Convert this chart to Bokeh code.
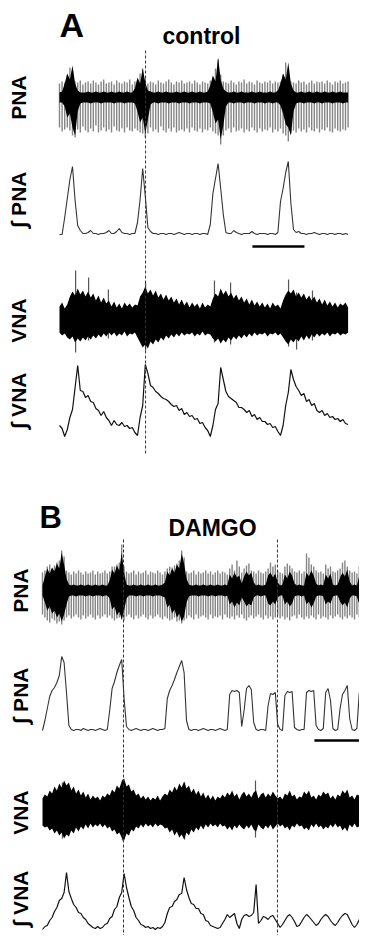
import numpy as np
from bokeh.plotting import figure
from bokeh.models import Range1d, Label
from bokeh.embed import file_html
from bokeh.resources import INLINE

# ---------------- data ----------------
DT = 0.1
SCALE_BAR_S = 2.0   # s
A_TITLE = "control"
B_TITLE = "DAMGO"
TRACE_LABELS = ["PNA", "\u222b PNA", "VNA", "\u222b VNA"]

# Panel A (control)
A_PNA_CORE_UP = [5, 6, 14, 24, 18, 32, 14, 7, 5, 5,
                 5, 6, 5, 5, 6, 5, 5, 6, 5, 5,
                 6, 5, 5, 6, 5, 5, 6, 5, 5, 9,
                 20, 14, 29, 15, 7, 6, 5, 5, 6, 5,
                 5, 6, 5, 5, 5, 6, 5, 5, 6, 5,
                 5, 6, 5, 5, 6, 5, 5, 6, 12, 22,
                 16, 40, 18, 9, 6, 5, 5, 6, 5, 5,
                 6, 5, 5, 5, 6, 5, 5, 6, 5, 5,
                 5, 6, 5, 5, 7, 14, 24, 18, 35, 14,
                 7, 5, 5, 6, 5, 5, 6, 5, 5, 6,
                 5, 5, 6, 5, 5, 6, 5, 5, 6, 5,
                 5, 5]
A_PNA_CORE_DN = [5, 5, 9, 20, 16, 30, 38, 14, 6, 5,
                 5, 5, 6, 5, 5, 5, 6, 5, 5, 5,
                 5, 6, 5, 5, 5, 6, 5, 5, 5, 6,
                 14, 25, 20, 36, 22, 7, 5, 5, 6, 5,
                 5, 5, 6, 5, 5, 5, 6, 5, 5, 5,
                 6, 5, 5, 5, 6, 5, 5, 5, 6, 15,
                 26, 22, 42, 28, 9, 5, 5, 6, 5, 5,
                 5, 6, 5, 5, 5, 6, 5, 5, 5, 6,
                 5, 5, 6, 5, 5, 8, 16, 27, 30, 38,
                 14, 6, 5, 5, 6, 5, 5, 5, 6, 5,
                 5, 6, 5, 5, 5, 6, 5, 5, 5, 6,
                 5, 5]
A_PNA_SPK_UP = [14, 16, 15, 22, 30, 27, 16, 15, 17, 13,
                15, 16, 14, 17, 15, 13, 16, 18, 14, 15,
                16, 13, 17, 15, 14, 16, 15, 18, 13, 16,
                17, 24, 29, 19, 14, 16, 15, 13, 17, 15,
                14, 16, 18, 15, 13, 16, 15, 17, 14, 15,
                16, 14, 17, 15, 13, 16, 15, 14, 17, 20,
                29, 38, 23, 16, 15, 14, 17, 15, 13, 16,
                15, 18, 14, 16, 15, 13, 17, 15, 14, 16,
                15, 17, 14, 16, 15, 16, 23, 35, 27, 16,
                15, 14, 17, 15, 16, 13, 15, 17, 14, 16,
                15, 16, 14, 17, 15, 13, 16, 15, 17, 14,
                15, 16]
A_PNA_SPK_DN = [30, 34, 32, 30, 33, 38, 40, 32, 35, 29,
                33, 35, 31, 34, 28, 35, 33, 30, 34, 32,
                35, 29, 33, 34, 31, 35, 30, 33, 34, 31,
                33, 35, 36, 40, 36, 30, 34, 32, 35, 29,
                33, 35, 31, 34, 30, 35, 33, 32, 34, 31,
                35, 30, 33, 34, 31, 35, 32, 33, 30, 34,
                36, 38, 47, 38, 33, 31, 35, 30, 34, 33,
                31, 35, 32, 34, 30, 33, 35, 31, 34, 32,
                33, 30, 35, 32, 34, 31, 36, 38, 44, 36,
                33, 35, 31, 34, 32, 35, 30, 33, 34, 31,
                35, 32, 33, 30, 34, 35, 31, 33, 34, 32,
                33, 30]
A_IPNA = [0, 0, 17, 36, 55, 68, 34, 9, 4, 1,
          1, 2, 4, 1, 1, 0, 1, 1, 2, 4,
          1, 1, 3, 6, 2, 1, 1, 0, 1, 1,
          12, 35, 66, 38, 7, 3, 1, 1, 0, 1,
          1, 0, 1, 1, 0, 1, 2, 1, 0, 1,
          1, 0, 1, 1, 0, 1, 1, 0, 10, 41,
          56, 71, 46, 20, 2, 1, 1, 4, 2, 1,
          0, 1, 1, 1, 3, 1, 0, 1, 1, 1,
          0, 1, 1, 0, 2, 33, 46, 62, 73, 31,
          5, 2, 3, 1, 1, 0, 1, 1, 2, 1,
          0, 1, 1, 0, 1, 1, 0, 1, 1, 0,
          1, 0]
A_VNA_UP = [14, 18, 12, 16, 24, 29, 25, 32, 26, 30,
            24, 29, 23, 27, 20, 25, 18, 23, 17, 20,
            14, 19, 13, 17, 12, 18, 14, 17, 13, 16,
            15, 24, 28, 34, 27, 31, 25, 30, 23, 27,
            21, 26, 20, 24, 18, 22, 16, 21, 15, 19,
            13, 18, 14, 17, 12, 18, 13, 16, 14, 22,
            27, 24, 32, 26, 30, 24, 28, 22, 26, 20,
            24, 18, 22, 16, 21, 15, 19, 14, 18, 13,
            17, 12, 18, 14, 16, 12, 20, 26, 30, 27,
            31, 24, 28, 23, 27, 21, 25, 20, 24, 18,
            22, 16, 21, 15, 19, 14, 18, 13, 17, 15,
            18, 13]
A_VNA_DN = [12, 15, 13, 17, 19, 16, 22, 18, 21, 17,
            20, 16, 19, 15, 18, 14, 17, 13, 16, 12,
            15, 12, 16, 13, 15, 11, 16, 13, 14, 12,
            17, 22, 27, 24, 28, 21, 24, 19, 22, 17,
            20, 15, 18, 14, 17, 13, 16, 12, 15, 13,
            14, 12, 16, 13, 15, 11, 15, 13, 14, 18,
            21, 18, 23, 19, 22, 17, 20, 16, 19, 15,
            18, 14, 17, 13, 16, 12, 15, 13, 14, 12,
            16, 13, 14, 12, 15, 13, 17, 21, 24, 19,
            22, 18, 21, 16, 20, 15, 19, 14, 17, 13,
            16, 13, 15, 12, 16, 13, 14, 12, 15, 13,
            14, 12]
A_VNA_SPIKE_T = [0.62, 1.12, 1.88, 3.31, 5.96, 6.58, 8.81, 9.12, 9.73]
A_VNA_SPIKE_UP = [50, 43, 31, 38, 40, 38, 41, 28, 30]
A_VNA_SPIKE_DN = [32, 20, 18, 30, 22, 24, 26, 29, 20]
A_IVNA = [12, 9, 1, 8, 20, 28, 50, 72, 47, 46,
          40, 42, 36, 35, 29, 27, 22, 26, 20, 17,
          12, 17, 13, 12, 15, 11, 12, 9, 10, 5,
          2, 20, 32, 73, 64, 52, 50, 46, 44, 41,
          39, 38, 36, 33, 31, 32, 27, 29, 23, 25,
          21, 22, 18, 19, 14, 15, 10, 7, 1, 12,
          28, 34, 70, 58, 46, 41, 39, 37, 35, 30,
          30, 28, 25, 27, 21, 23, 18, 20, 16, 16,
          13, 14, 10, 11, 6, 2, 12, 32, 45, 68,
          58, 51, 47, 42, 44, 36, 38, 32, 34, 27,
          25, 27, 22, 24, 20, 21, 18, 19, 16, 18,
          14, 13]
A_MARKERS_S = [3.31]
A_SCALEBAR_START_S = 7.42

# Panel B (DAMGO)
B_PNA_CORE_UP = [5, 14, 22, 17, 23, 19, 27, 22, 38, 26,
                 12, 6, 5, 6, 5, 5, 6, 5, 5, 6,
                 5, 5, 6, 5, 5, 6, 5, 5, 10, 21,
                 17, 25, 20, 38, 18, 6, 5, 5, 6, 5,
                 5, 6, 5, 5, 6, 5, 5, 6, 5, 5,
                 6, 8, 19, 15, 22, 18, 26, 22, 37, 27,
                 12, 6, 5, 5, 6, 5, 5, 6, 5, 5,
                 6, 5, 5, 6, 5, 5, 6, 5, 16, 12,
                 18, 13, 15, 7, 14, 19, 15, 18, 8, 5,
                 6, 5, 5, 6, 15, 18, 13, 17, 8, 5,
                 6, 16, 12, 19, 15, 7, 5, 6, 5, 5,
                 18, 14, 20, 15, 7, 5, 6, 5, 16, 12,
                 17, 6, 5, 6, 13, 18, 14, 21, 9, 5,
                 6, 5, 15, 18, 8, 5]
B_PNA_CORE_DN = [5, 12, 20, 16, 23, 20, 27, 23, 31, 24,
                 14, 6, 5, 5, 6, 5, 5, 5, 6, 5,
                 5, 6, 5, 5, 5, 6, 5, 5, 8, 19,
                 16, 25, 21, 29, 20, 8, 5, 5, 5, 6,
                 5, 5, 6, 5, 5, 5, 6, 5, 5, 5,
                 6, 7, 17, 14, 23, 19, 27, 23, 31, 26,
                 12, 6, 5, 5, 5, 6, 5, 5, 5, 6,
                 5, 5, 6, 5, 5, 5, 6, 5, 14, 11,
                 17, 12, 15, 7, 11, 16, 13, 15, 7, 5,
                 5, 6, 5, 5, 13, 15, 11, 14, 7, 5,
                 5, 14, 11, 16, 13, 6, 5, 5, 6, 5,
                 14, 11, 17, 13, 6, 5, 5, 6, 14, 11,
                 13, 6, 5, 5, 11, 15, 12, 17, 8, 5,
                 5, 6, 14, 16, 7, 5]
B_PNA_SPK_UP = [18, 20, 24, 26, 22, 25, 28, 30, 40, 34,
                20, 18, 16, 19, 17, 20, 18, 16, 19, 17,
                18, 20, 16, 19, 17, 18, 20, 17, 19, 24,
                24, 26, 28, 46, 24, 19, 17, 18, 20, 16,
                19, 17, 18, 20, 16, 19, 18, 17, 20, 18,
                16, 19, 22, 24, 23, 25, 27, 30, 40, 33,
                19, 17, 18, 20, 16, 19, 17, 18, 20, 17,
                19, 16, 18, 20, 17, 19, 18, 16, 22, 26,
                20, 30, 24, 18, 22, 25, 27, 20, 19, 17,
                20, 18, 17, 19, 22, 28, 24, 26, 20, 18,
                17, 24, 27, 25, 22, 19, 18, 20, 17, 19,
                37, 33, 26, 24, 20, 18, 19, 17, 26, 22,
                24, 19, 18, 20, 22, 28, 30, 24, 20, 18,
                19, 17, 24, 28, 20, 18]
B_PNA_SPK_DN = [24, 27, 30, 32, 28, 30, 33, 31, 34, 30,
                27, 25, 28, 26, 24, 27, 29, 25, 28, 26,
                24, 27, 29, 25, 28, 26, 24, 27, 25, 28,
                30, 28, 27, 29, 30, 26, 24, 27, 29, 25,
                28, 26, 24, 27, 29, 25, 28, 26, 24, 27,
                29, 26, 28, 30, 29, 27, 31, 30, 33, 30,
                28, 25, 27, 29, 24, 28, 26, 25, 27, 29,
                24, 28, 26, 27, 25, 29, 24, 27, 28, 26,
                29, 25, 27, 24, 28, 30, 27, 25, 28, 26,
                24, 27, 29, 25, 28, 26, 29, 27, 25, 28,
                26, 29, 27, 30, 26, 25, 28, 24, 27, 29,
                26, 28, 25, 27, 29, 24, 28, 26, 27, 29,
                25, 28, 26, 24, 27, 29, 26, 28, 25, 27,
                29, 24, 27, 28, 26, 25]
B_IPNA = [0, 10, 22, 34, 40, 43, 48, 55, 74, 68,
          38, 5, 1, 0, 1, 1, 0, 2, 1, 0,
          1, 1, 0, 1, 2, 1, 0, 1, 20, 42,
          49, 58, 65, 71, 32, 4, 1, 0, 1, 2,
          1, 0, 1, 1, 0, 1, 2, 1, 0, 1,
          1, 2, 32, 40, 45, 51, 58, 64, 70, 58,
          10, 1, 0, 1, 1, 0, 1, 2, 1, 0,
          1, 1, 0, 1, 2, 1, 0, 1, 36, 40,
          39, 40, 38, 4, 20, 42, 45, 41, 8, 1,
          0, 1, 1, 0, 25, 37, 36, 38, 6, 1,
          0, 35, 39, 38, 39, 3, 1, 0, 1, 1,
          38, 40, 39, 40, 5, 1, 0, 2, 38, 42,
          30, 2, 0, 1, 22, 36, 40, 45, 12, 1,
          0, 2, 38, 41, 5, 0]
B_VNA_UP = [14, 18, 16, 22, 19, 26, 22, 29, 25, 32,
            27, 30, 22, 26, 19, 23, 17, 21, 15, 19,
            13, 17, 14, 16, 12, 17, 15, 19, 17, 23,
            20, 27, 24, 31, 34, 26, 28, 21, 23, 17,
            19, 14, 17, 13, 16, 12, 15, 13, 17, 12,
            16, 19, 17, 23, 20, 26, 22, 29, 25, 31,
            24, 27, 20, 24, 18, 22, 16, 20, 14, 18,
            13, 17, 12, 16, 14, 18, 15, 20, 17, 22,
            16, 19, 13, 18, 21, 16, 19, 15, 20, 22,
            14, 18, 20, 15, 19, 16, 21, 17, 14, 16,
            13, 19, 17, 22, 16, 18, 13, 16, 15, 21,
            18, 22, 15, 17, 13, 18, 16, 21, 18, 20,
            14, 17, 13, 18, 16, 22, 19, 23, 15, 17,
            13, 18, 17, 22, 16, 18]
B_VNA_DN = [13, 15, 14, 18, 16, 21, 18, 23, 20, 26,
            22, 24, 18, 21, 15, 19, 14, 17, 12, 16,
            11, 15, 12, 14, 11, 15, 12, 16, 14, 19,
            17, 22, 20, 25, 28, 21, 23, 17, 19, 14,
            16, 12, 15, 11, 14, 12, 15, 11, 14, 12,
            13, 16, 15, 20, 17, 23, 19, 25, 22, 27,
            20, 23, 17, 20, 15, 18, 13, 17, 12, 15,
            11, 14, 12, 15, 11, 14, 13, 17, 14, 18,
            13, 16, 12, 15, 17, 13, 16, 12, 17, 19,
            12, 15, 17, 13, 16, 12, 17, 14, 11, 14,
            12, 16, 14, 18, 13, 15, 11, 14, 13, 17,
            15, 18, 12, 15, 11, 15, 13, 17, 14, 16,
            12, 15, 11, 15, 13, 18, 15, 19, 12, 15,
            11, 15, 14, 18, 13, 15]
B_VNA_SPIKE_T = [0.83, 3.33, 5.92, 8.875]
B_VNA_SPIKE_UP = [30, 33, 30, 32]
B_VNA_SPIKE_DN = [26, 28, 27, 25]
B_IVNA = [0, 3, 4, 9, 12, 18, 22, 29, 31, 37,
          57, 38, 31, 25, 22, 17, 16, 12, 10, 6,
          4, 2, 1, 3, 1, 2, 5, 6, 11, 13,
          20, 23, 32, 37, 56, 42, 32, 23, 19, 12,
          9, 5, 4, 2, 3, 1, 2, 0, 2, 1,
          3, 7, 16, 22, 23, 28, 30, 35, 36, 52,
          40, 32, 26, 25, 21, 21, 16, 15, 9, 8,
          4, 3, 2, 1, 2, 6, 10, 15, 12, 14,
          16, 6, 1, 10, 14, 15, 13, 14, 17, 45,
          6, 9, 13, 12, 10, 13, 14, 10, 6, 2,
          5, 9, 13, 15, 12, 8, 3, 4, 8, 12,
          15, 13, 10, 7, 4, 6, 10, 13, 15, 13,
          9, 6, 4, 7, 11, 14, 16, 15, 10, 5,
          2, 5, 10, 15, 16, 13]
B_MARKERS_S = [3.375, 9.79]
B_SCALEBAR_START_S = 11.33

# ---------------- layout (page pixels) ----------------
W, H = 359, 935
PAGE_TOP = 8
A_PX_PER_S, A_X0 = 26.0, 67.0
B_PX_PER_S, B_X0 = 24.0, 50.0

p = figure(width=W, height=H,
           x_range=Range1d((PAGE_TOP - A_X0) / A_PX_PER_S, (PAGE_TOP + W - A_X0) / A_PX_PER_S),
           y_range=Range1d(PAGE_TOP + H, PAGE_TOP),
           output_backend="svg", toolbar_location=None, min_border=0,
           x_axis_location=None, y_axis_location=None)
p.extra_x_ranges = {"B": Range1d((PAGE_TOP - B_X0) / B_PX_PER_S, (PAGE_TOP + W - B_X0) / B_PX_PER_S)}
p.outline_line_color = None
p.grid.visible = False
p.background_fill_color = "white"
p.border_fill_color = "white"


def tvec(vals):
    return np.arange(len(vals)) * DT


def draw_panel(rng, pna_c, ipna_b, vna_c, ivna_b,
               core_up, core_dn, spk_up, spk_dn, ipna,
               vna_up, vna_dn, sp_t, sp_up, sp_dn, ivna,
               markers, mark_y0, mark_y1, bar_start, bar_y):
    # raw PNA: grey spike stripes + black core
    n = min(len(spk_up), len(spk_dn))
    t = tvec(spk_up[:n])
    p.segment(x0=t, y0=pna_c - np.array(spk_up[:n]), x1=t, y1=pna_c + np.array(spk_dn[:n]),
              line_color="#858585", line_width=1.4, x_range_name=rng)
    n = min(len(core_up), len(core_dn))
    t = tvec(core_up[:n])
    p.varea(x=t, y1=pna_c - np.array(core_up[:n]), y2=pna_c + np.array(core_dn[:n]),
            fill_color="black", x_range_name=rng)
    # integrated PNA
    p.line(tvec(ipna), ipna_b - np.array(ipna), line_color="#333333", line_width=1.1,
           x_range_name=rng)
    # raw VNA: isolated tall spikes behind the dense black band
    p.segment(x0=sp_t, y0=vna_c - np.array(sp_up), x1=sp_t, y1=vna_c + np.array(sp_dn),
              line_color="#555555", line_width=1.2, x_range_name=rng)
    n = min(len(vna_up), len(vna_dn))
    t = tvec(vna_up[:n])
    p.varea(x=t, y1=vna_c - np.array(vna_up[:n]), y2=vna_c + np.array(vna_dn[:n]),
            fill_color="black", x_range_name=rng)
    # integrated VNA
    p.line(tvec(ivna), ivna_b - np.array(ivna), line_color="#111111", line_width=1.2,
           x_range_name=rng)
    # dashed event markers
    p.segment(x0=markers, y0=[mark_y0] * len(markers), x1=markers, y1=[mark_y1] * len(markers),
              line_color="#333333", line_width=1, line_dash="3 2", x_range_name=rng)
    # time scale bar
    p.segment(x0=[bar_start], y0=[bar_y], x1=[bar_start + SCALE_BAR_S], y1=[bar_y],
              line_color="black", line_width=2.5, x_range_name=rng)


draw_panel("default", 105, 242, 328, 445,
           A_PNA_CORE_UP, A_PNA_CORE_DN, A_PNA_SPK_UP, A_PNA_SPK_DN, A_IPNA,
           A_VNA_UP, A_VNA_DN, A_VNA_SPIKE_T, A_VNA_SPIKE_UP, A_VNA_SPIKE_DN, A_IVNA,
           A_MARKERS_S, 58, 462, A_SCALEBAR_START_S, 254)
draw_panel("B", 598, 738, 820, 937,
           B_PNA_CORE_UP, B_PNA_CORE_DN, B_PNA_SPK_UP, B_PNA_SPK_DN, B_IPNA,
           B_VNA_UP, B_VNA_DN, B_VNA_SPIKE_T, B_VNA_SPIKE_UP, B_VNA_SPIKE_DN, B_IVNA,
           B_MARKERS_S, 547, 951, B_SCALEBAR_START_S, 748)

FONT = "Liberation Sans"


def label(text, x_page, y_page, size, angle=0.0, align="left", baseline="alphabetic"):
    p.add_layout(Label(x=x_page - PAGE_TOP, x_units="screen", y=y_page, y_units="data",
                       text=text, text_font=FONT, text_font_style="bold",
                       text_font_size=f"{size}px", text_color="black", angle=angle,
                       text_align=align, text_baseline=baseline))


# panel letters and titles
label("A", 67, 32, 34)
label(A_TITLE, 209, 43, 23, align="center")
label("B", 47, 525, 31)
label(B_TITLE, 220, 535, 23, align="center")

# rotated trace labels
for txt, yc in zip(TRACE_LABELS, [105, 207, 328, 408]):
    label(txt, 26, yc, 21, angle=np.pi / 2, align="center", baseline="middle")
for txt, yc in zip(TRACE_LABELS, [598, 703, 820, 906]):
    label(txt, 28, yc, 21, angle=np.pi / 2, align="center", baseline="middle")

open("out.html", "w").write(file_html(p, INLINE))
